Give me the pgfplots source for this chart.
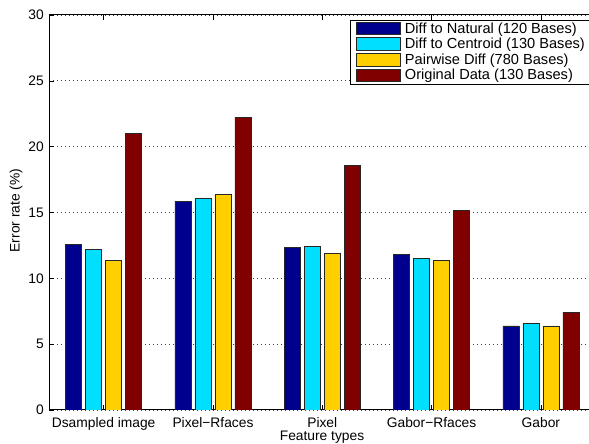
\documentclass[border=0pt]{standalone}
\usepackage{pgfplots}
\pgfplotsset{compat=1.18}
\usepackage{fontspec}
\setmainfont{Liberation Sans}
\definecolor{cNat}{RGB}{0,0,143}
\definecolor{cCen}{RGB}{0,223,255}
\definecolor{cPair}{RGB}{255,207,0}
\definecolor{cOrig}{RGB}{128,0,0}
\begin{document}
\begin{tikzpicture}
\path[use as bounding box] (0,0) rectangle (589pt,444pt);
\begin{axis}[
  at={(49pt,34pt)}, anchor=south west,
  width=540pt, height=395pt, scale only axis,
  xmin=0.5, xmax=5.44, ymin=0, ymax=30,
  axis x line=box, axis y line=left,
  x axis line style={-, line width=1pt},
  y axis line style={-, line width=1pt},
  ybar,
  xtick={1,2,3,4,5},
  xticklabels={Dsampled image, Pixel−Rfaces, Pixel, Gabor−Rfaces, Gabor},
  ytick={0,5,...,30},
  ymajorgrids,
  grid style={line width=0.7pt, dash pattern=on 0.7pt off 3.3pt, black!75},
  tick align=inside, major tick length=5pt,
  tick style={black, line width=0.6pt},
  /pgf/number format/assume math mode=true,
  tick label style={font=\fontsize{13.8}{16}\selectfont},
  yticklabel style={inner sep=0pt, xshift=-5pt},
  xticklabel style={inner sep=0pt, yshift=-7.5pt},
  xlabel={Feature types},
  xlabel style={at={(axis description cs:0.5056,0)}, anchor=north, yshift=-21pt, inner sep=0pt, font=\fontsize{13.8}{16}\selectfont},
  ylabel={Error rate (\%)},
  ylabel style={at={(axis description cs:-0.0611,0.505)}, anchor=center, inner sep=0pt, font=\fontsize{13.8}{16}\selectfont},
  legend image code/.code={\draw[#1] (0pt,-6pt) rectangle (44pt,6.5pt);},
  legend cell align=left,
  legend style={at={(rel axis cs:1.005,0.988)}, anchor=north east, draw=black, line width=0.8pt, fill=white,
    font=\fontsize{14.6}{17}\selectfont, inner xsep=5pt, inner ysep=1pt, row sep=0.5pt, column sep=3pt,
    nodes={inner sep=1.5pt}},
]
\addplot[fill=cNat, draw=black!85, line width=0.6pt, bar width=16pt, bar shift=-30pt]
  coordinates {(1,12.55) (2,15.87) (3,12.33) (4,11.82) (5,6.38)};
\addplot[fill=cCen, draw=black!85, line width=0.6pt, bar width=16pt, bar shift=-10pt]
  coordinates {(1,12.2) (2,16.05) (3,12.43) (4,11.49) (5,6.55)};
\addplot[fill=cPair, draw=black!85, line width=0.6pt, bar width=16pt, bar shift=10pt]
  coordinates {(1,11.37) (2,16.38) (3,11.87) (4,11.37) (5,6.38)};
\addplot[fill=cOrig, draw=black!85, line width=0.6pt, bar width=16pt, bar shift=30pt]
  coordinates {(1,20.98) (2,22.22) (3,18.58) (4,15.16) (5,7.42)};
\legend{Diff to Natural (120 Bases), Diff to Centroid (130 Bases), Pairwise Diff (780 Bases), Original Data (130 Bases)}
\end{axis}
\end{tikzpicture}
\end{document}
